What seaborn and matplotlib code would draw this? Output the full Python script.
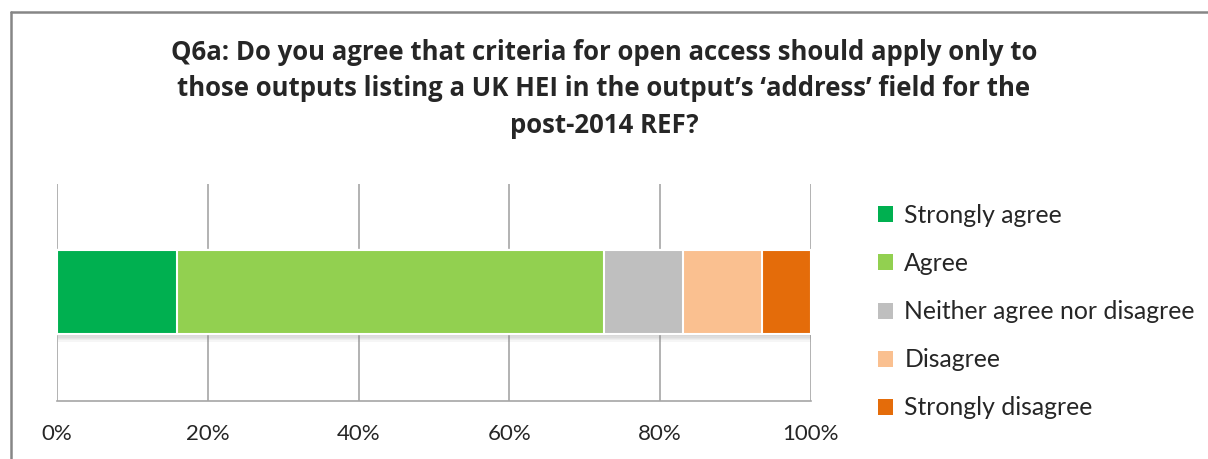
import numpy as np
import pandas as pd
import matplotlib
matplotlib.use("Agg")
import matplotlib.pyplot as plt
import matplotlib.patheffects as pe
from matplotlib.lines import Line2D
from matplotlib.patches import Patch
import seaborn as sns

# Survey responses (% of respondents)
question = ["Q6a"]
responses = ["Strongly agree", "Agree", "Neither agree nor disagree",
             "Disagree", "Strongly disagree"]
shares = [15.9, 56.7, 10.4, 10.5, 6.5]
colors = ["#00B050", "#92D050", "#BFBFBF", "#FAC090", "#E46C0A"]
tick_values = [0, 20, 40, 60, 80, 100]
tick_labels = ["0%", "20%", "40%", "60%", "80%", "100%"]
title = ("Q6a: Do you agree that criteria for open access should apply only to\n"
         "those outputs listing a UK HEI in the output\u2019s \u2018address\u2019 field for the\n"
         "post-2014 REF?")

sns.set_theme(style="white")
plt.rcParams["font.family"] = ["Lato", "DejaVu Sans"]

fig = plt.figure(figsize=(12.08, 4.59), dpi=100)
ax = fig.add_axes([0.0472, 0.1270, 0.6240, 0.4732])

# Stacked bar: draw cumulative totals from the longest down so each
# segment sits on top of the one to its right.
cum = np.cumsum(shares)
for i in range(len(responses) - 1, -1, -1):
    df = pd.DataFrame({"question": question, "value": [cum[i]]})
    sns.barplot(data=df, x="value", y="question", orient="h", color=colors[i],
                width=0.387, edgecolor="white", linewidth=1.5,
                saturation=1, ax=ax, zorder=3)

# soft shadow under the full bar, built from stacked faint offsets
shadow = [pe.SimplePatchShadow(offset=(0.5, -k), shadow_rgbFace="#808080", alpha=0.07)
          for k in (1.5, 2.5, 3.5, 4.5, 5.5)]
ax.patches[0].set_path_effects(shadow + [pe.Normal()])

ax.set_xlim(0, 100)
ax.set_ylim(0.5, -0.5)
ax.set_xticks(tick_values)
ax.set_xticklabels(tick_labels, fontsize=16, color="#262626")
ax.tick_params(axis="x", length=0, pad=17)
ax.set_yticks([])
ax.set_xlabel("")
ax.set_ylabel("")
ax.grid(axis="x", color="#A6A6A6", linewidth=1.2, zorder=0)
for s in ["top", "right", "left"]:
    ax.spines[s].set_visible(False)
ax.spines["bottom"].set_color("#A6A6A6")
ax.spines["bottom"].set_linewidth(1.2)

# Legend
handles = [Patch(facecolor=c, edgecolor="none") for c in colors]
fig.legend(handles, responses, loc="upper left", bbox_to_anchor=(0.7185, 0.577),
           frameon=False, fontsize=17.8, handlelength=0.62, handleheight=0.62,
           handletextpad=0.45, labelspacing=1.015, labelcolor="#262626",
           borderaxespad=0)

# Title
fig.text(0.5, 0.915, title, ha="center", va="top", fontsize=18.5,
         fontweight="bold", linespacing=1.45, color="#262626",
         family=["Liberation Sans Narrow", "Open Sans", "DejaVu Sans"])

# Chart frame
fig.add_artist(Line2D([0.0091, 0.0091], [0.9739, -0.1], transform=fig.transFigure,
                      color="#868686", linewidth=1.8))
fig.add_artist(Line2D([0.0091, 1.1], [0.9739, 0.9739], transform=fig.transFigure,
                      color="#868686", linewidth=1.8))

fig.savefig("out.png", dpi=100, facecolor="white")
